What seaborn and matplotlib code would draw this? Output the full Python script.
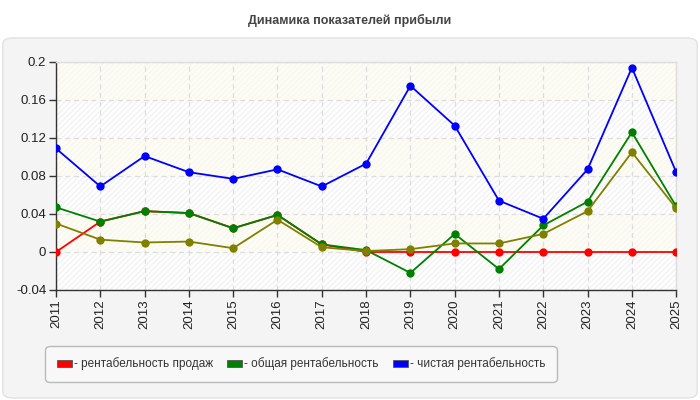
import numpy as np
import pandas as pd
import seaborn as sns
import matplotlib.pyplot as plt
from matplotlib.patches import FancyBboxPatch, Patch

years = list(range(2011, 2026))
# рентабельность продаж
rent_prodazh = [0.0, 0.032, 0.043, 0.041, 0.025, 0.039, 0.008, 0.0, 0.0, 0.0, 0.0, 0.0, 0.0, 0.0, 0.0]
# общая рентабельность
obshaya = [0.047, 0.032, 0.043, 0.041, 0.025, 0.039, 0.008, 0.002, -0.022, 0.019, -0.018, 0.028, 0.053, 0.126, 0.048]
# чистая рентабельность
chistaya = [0.109, 0.069, 0.101, 0.084, 0.077, 0.087, 0.069, 0.093, 0.175, 0.133, 0.054, 0.035, 0.087, 0.194, 0.084]
# четвертая серия (без легенды)
olive = [0.030, 0.013, 0.010, 0.011, 0.004, 0.034, 0.005, 0.001, 0.003, 0.009, 0.009, 0.019, 0.043, 0.105, 0.046]

labels = ['- рентабельность продаж', '- общая рентабельность', '- чистая рентабельность']
colors = ['#ff0000', '#008000', '#0000ff', '#808000']

sns.set_style('white')
plt.rcParams['font.family'] = ['Liberation Sans', 'DejaVu Sans']

fig = plt.figure(figsize=(7, 4), dpi=100)
fig.patch.set_facecolor('white')
panel = FancyBboxPatch((0.004, 0.005), 0.992, 0.9, boxstyle='round,pad=0,rounding_size=0.015',
                       transform=fig.transFigure, facecolor='#f4f4f4', edgecolor='#e2e2e2',
                       lw=1, zorder=-10)
fig.patches.append(panel)
fig.text(0.5, 0.95, 'Динамика показателей прибыли', ha='center', va='center',
         fontsize=9, fontweight='bold', color='#444444')

ax = fig.add_axes([0.08, 0.275, 0.886, 0.57])
ax.set_facecolor('#ffffff')
ax.patch.set_hatch('//////')
ax.patch.set_edgecolor('#f2f2f2')
ax.patch.set_linewidth(0)
bands = np.arange(-0.04, 0.2, 0.04)
for i, b in enumerate(bands):
    if i % 2 == 1:
        ax.axhspan(b, b + 0.04, color='#fcfcee', alpha=0.55, lw=0, zorder=0)

df = pd.DataFrame({'year': years * 4,
                   'value': rent_prodazh + obshaya + chistaya + olive,
                   'series': ['a'] * 15 + ['b'] * 15 + ['c'] * 15 + ['d'] * 15})
for k, (s, c) in enumerate(zip(['a', 'b', 'c', 'd'], colors)):
    sns.lineplot(data=df[df['series'] == s], x='year', y='value', color=c, marker='o',
                 markersize=6, markeredgewidth=0, linewidth=1.3, ax=ax, legend=False)
    ax.lines[-1].set_zorder(3 + k)

ax.set_xlim(2011, 2025)
ax.set_ylim(-0.04, 0.2)
ax.set_xticks(years)
ax.set_xticklabels([str(y) for y in years], rotation=90, fontsize=9.5, color='#222222')
yt = [-0.04, 0, 0.04, 0.08, 0.12, 0.16, 0.2]
ax.set_yticks(yt)
ax.set_yticklabels(['-0.04', '0', '0.04', '0.08', '0.12', '0.16', '0.2'], fontsize=9.5, color='#222222')
ax.set_xlabel('')
ax.set_ylabel('')
ax.grid(True, color='#dddddd', linestyle=(0, (4, 3)), linewidth=0.9)
ax.set_axisbelow(True)
ax.tick_params(axis='both', direction='out', length=5, width=1, color='#333333', pad=2,
               left=True, bottom=True)
for side in ['left', 'bottom']:
    ax.spines[side].set_color('#333333')
    ax.spines[side].set_linewidth(1)
for side in ['top', 'right']:
    ax.spines[side].set_color('#dddddd')
    ax.spines[side].set_linewidth(1)

handles = [Patch(facecolor=c, edgecolor='#555555', linewidth=0.6) for c in colors[:3]]
leg = fig.legend(handles, labels, loc='center', bbox_to_anchor=(0.43, 0.09), ncol=3,
                 frameon=True, fontsize=8.5, handlelength=1.3, handleheight=0.6,
                 handletextpad=0.15, columnspacing=1.2, borderpad=1.0)
leg.get_frame().set_facecolor('#fafafa')
leg.get_frame().set_edgecolor('#aaaaaa')
leg.get_frame().set_boxstyle('round,pad=0,rounding_size=0.4')
for t in leg.get_texts():
    t.set_color('#333333')

fig.savefig('out.png', dpi=100)
